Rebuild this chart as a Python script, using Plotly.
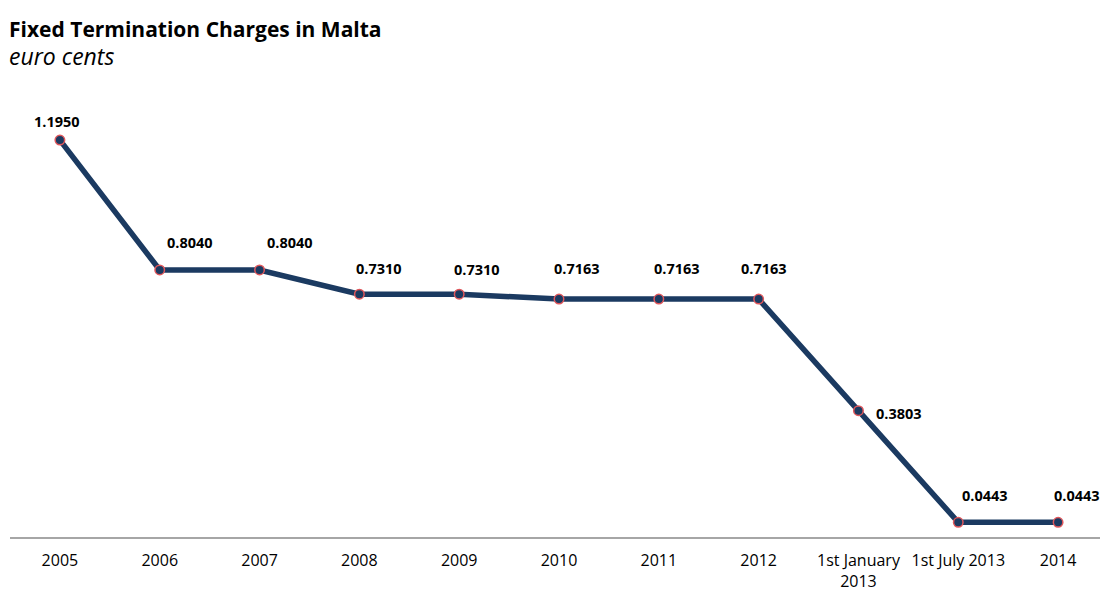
import plotly.graph_objects as go

categories = ["2005", "2006", "2007", "2008", "2009", "2010", "2011", "2012",
              "1st January<br>2013", "1st July 2013", "2014"]
values = [1.1950, 0.8040, 0.8040, 0.7310, 0.7310, 0.7163, 0.7163, 0.7163,
          0.3803, 0.0443, 0.0443]
labels = [f"{v:.4f}" for v in values]

title = "Fixed Termination Charges in Malta"
subtitle = "euro cents"

line_col = "#1B3A61"
font_fam = "Open Sans, Noto Sans, sans-serif"

fig = go.Figure()
fig.add_trace(go.Scatter(
    x=list(range(len(categories))), y=values, mode="lines+markers",
    line=dict(color=line_col, width=5.5),
    marker=dict(size=9.5, color=line_col, line=dict(color="#E0575B", width=1.5)),
    hoverinfo="skip", showlegend=False,
))

xshifts = [-3, 30, 30, 20, 18, 18, 18, 5, 41, 27, 19]
yshifts = [19, 27, 27, 26, 25, 31, 31, 31, -3, 27, 27]
for i, (v, lab) in enumerate(zip(values, labels)):
    fig.add_annotation(x=i, y=v, text=f"<b>{lab}</b>", showarrow=False,
                       xshift=xshifts[i], yshift=yshifts[i],
                       font=dict(family=font_fam, size=14.5, color="#000000"))

fig.add_annotation(xref="paper", yref="paper", x=0, y=1, xshift=-3, yshift=43,
                   xanchor="left", yanchor="middle", showarrow=False,
                   text=f"<b>{title}</b>",
                   font=dict(family=font_fam, size=21, color="#000000"))
fig.add_annotation(xref="paper", yref="paper", x=0, y=1, xshift=-3, yshift=16,
                   xanchor="left", yanchor="middle", showarrow=False,
                   text=f"<i>{subtitle}</i>",
                   font=dict(family=font_fam, size=23, color="#000000"))

fig.update_layout(
    width=1100, height=584,
    margin=dict(l=2, r=0, t=64, b=52),
    paper_bgcolor="white", plot_bgcolor="white",
    xaxis=dict(tickmode="array", tickvals=list(range(len(categories))),
               ticktext=categories, range=[-0.5, 10.5],
               showgrid=False, zeroline=False, showline=True,
               linecolor="#A6A6A6", linewidth=1.5, ticks="",
               ticklabelstandoff=8,
               tickfont=dict(family=font_fam, size=16, color="#000000")),
    yaxis=dict(range=[0, 1.4], visible=False, showgrid=False, zeroline=False),
)

fig.write_html("out.html")
